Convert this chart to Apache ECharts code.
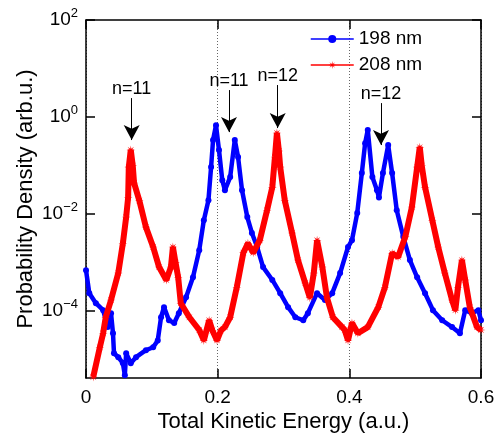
<!DOCTYPE html>
<html>
<head>
<meta charset="utf-8">
<script src="https://cdn.jsdelivr.net/npm/echarts@6/dist/echarts.min.js"></script>
<style>html,body{margin:0;padding:0;background:#fff}#c{width:501px;height:433px}</style>
</head>
<body>
<div id="c"></div>
<script>
// 198 nm (blue)
var blueX = [0.000,0.005,0.015,0.026,0.033,0.038,0.041,0.0425,0.049,0.056,0.059,0.061,0.068,0.076,0.091,0.102,0.109,0.114,0.1185,0.126,0.134,0.141,0.152,0.1625,0.172,0.179,0.186,0.190,0.193,0.1975,0.202,0.207,0.211,0.219,0.226,0.231,0.237,0.245,0.252,0.260,0.269,0.283,0.295,0.307,0.318,0.330,0.337,0.351,0.363,0.374,0.386,0.398,0.404,0.412,0.419,0.424,0.428,0.435,0.442,0.445,0.451,0.459,0.465,0.472,0.482,0.492,0.503,0.515,0.527,0.541,0.556,0.568,0.576,0.586,0.596,0.600];
var blueY = [7.0e-4,2.35e-4,1.46e-4,1.05e-4,4.7e-5,9.1e-5,3.5e-5,1.36e-5,1.13e-5,8.5e-6,4.8e-6,1.36e-5,8.5e-6,1.13e-5,1.57e-5,1.81e-5,2.5e-5,7.5e-5,1.21e-4,6.5e-5,5.7e-5,9.1e-5,1.94e-4,5.0e-4,1.81e-3,7.5e-3,0.0194,0.093,0.336,0.68,0.21,0.050,0.031,0.058,0.336,0.15,0.031,8.7e-3,4.1e-3,2.1e-3,8.1e-4,4.4e-4,2.35e-4,1.21e-4,7.5e-5,6.5e-5,9.1e-5,2.35e-4,1.7e-4,2.35e-4,6.1e-4,2.1e-3,2.9e-3,0.0105,0.070,0.29,0.54,0.058,0.031,0.022,0.070,0.265,0.070,0.012,3.4e-3,1.13e-3,5.0e-4,2.35e-4,1.05e-4,6.5e-5,4.7e-5,3.5e-5,1.05e-4,9.1e-5,1.05e-4,6.5e-5];
// 208 nm (red)
var redX = [0.011,0.021,0.026,0.030,0.038,0.049,0.056,0.061,0.064,0.065,0.068,0.071,0.073,0.081,0.091,0.102,0.111,0.122,0.129,0.132,0.136,0.140,0.144,0.157,0.172,0.179,0.187,0.192,0.199,0.205,0.211,0.219,0.229,0.239,0.246,0.254,0.264,0.275,0.283,0.287,0.290,0.293,0.295,0.302,0.313,0.322,0.333,0.340,0.346,0.351,0.359,0.366,0.375,0.389,0.393,0.398,0.404,0.413,0.428,0.444,0.454,0.465,0.474,0.485,0.495,0.503,0.507,0.510,0.515,0.526,0.535,0.545,0.556,0.561,0.565,0.571,0.576,0.583,0.594,0.600];
var redY = [4.4e-6,1.8e-5,3.5e-5,7.5e-5,1.7e-4,6.1e-4,2.5e-3,8.7e-3,0.022,0.093,0.21,0.10,0.044,0.019,5.4e-3,2.1e-3,8.1e-4,4.4e-4,8.1e-4,2.1e-3,1.0e-3,5.0e-4,1.46e-4,7.5e-5,4.1e-5,2.5e-5,6.5e-5,4.0e-5,2.5e-5,4.0e-5,4.7e-5,7.5e-5,3.1e-4,1.6e-3,2.5e-3,1.6e-3,2.9e-3,0.012,0.036,0.15,0.47,0.20,0.093,0.019,4.1e-3,1.13e-3,3.8e-4,1.9e-4,6.1e-4,2.9e-3,8.1e-4,1.9e-4,7.5e-5,4.7e-5,4.1e-5,2.5e-5,5.7e-5,3.5e-5,4.7e-5,1.21e-4,3.1e-4,1.57e-3,1.3e-3,3.4e-3,0.014,0.093,0.24,0.10,0.036,7.5e-3,2.1e-3,6.1e-4,1.7e-4,1.05e-4,3.1e-4,1.13e-3,4.4e-4,1.2e-4,4.7e-5,4.1e-5];
// annotations
var annText = ['n=11','n=11','n=12','n=12'];
var annX = [0.0694,0.2172,0.2912,0.4481];
var annTop = [2.46,3.6,4.57,1.94];
var annTip = [0.336,0.49,0.593,0.265];
// ticks
var xTicks = [0,0.2,0.4,0.6];
var yTicks = [1e-4,1e-2,1,100];
var seriesNames = ['198 nm','208 nm'];

function pairs(xs, ys){ return xs.map(function(x,i){ return [x, ys[i]]; }); }
var starPath = 'path://M20 10 L12.77 11.15 L17.07 17.07 L11.15 12.77 L10 20 L8.85 12.77 L2.93 17.07 L7.23 11.15 L0 10 L7.23 8.85 L2.93 2.93 L8.85 7.23 L10 0 L11.15 7.23 L17.07 2.93 L12.77 8.85 Z';
var FONT = 'Liberation Sans, Arial, sans-serif';

var chart = echarts.init(document.getElementById('c'), null, {renderer:'canvas'});
var yLabelFmt = function(v){
  var e = Math.round(Math.log10(v));
  var s = e < 0 ? '\u2212' + (-e) : '' + e;
  return '{b|10}{s|' + s + '}';
};
var axisLineStyle = {color:'#000', width:1.5};
chart.setOption({
  animation:false,
  backgroundColor:'#fff',
  textStyle:{fontFamily:FONT},
  grid:{left:86, top:20, right:20, bottom:55, containLabel:false, outerBoundsMode:'none'},
  legend:{
    data:seriesNames, orient:'vertical', left:305, top:24,
    itemWidth:43, itemHeight:10, itemGap:6,
    textStyle:{fontSize:19, color:'#000', lineHeight:20, fontFamily:FONT},
    lineStyle:{width:1.5}
  },
  xAxis:[{
    type:'value', min:0, max:0.6, interval:0.2, position:'bottom',
    name:'Total Kinetic Energy (a.u.)', nameLocation:'middle', nameGap:33, nameMoveOverlap:false,
    nameTextStyle:{fontSize:22, color:'#000', fontFamily:FONT},
    axisLine:{show:true, onZero:false, lineStyle:axisLineStyle},
    axisTick:{show:true, inside:true, length:9, lineStyle:axisLineStyle},
    axisLabel:{show:true, fontSize:19, color:'#000', margin:10, fontFamily:FONT,
      customValues:xTicks, formatter:function(v){ return String(+v.toFixed(1)); }},
    splitLine:{show:true, lineStyle:{color:'#666', width:1, type:[1,2]}}
  },{
    type:'value', min:0, max:0.6, interval:0.2, position:'top',
    axisLine:{show:true, onZero:false, lineStyle:axisLineStyle},
    axisTick:{show:true, inside:true, length:9, lineStyle:axisLineStyle},
    axisLabel:{show:false}, splitLine:{show:false}
  }],
  yAxis:[{
    type:'log', logBase:10, min:4.2e-6, max:100, position:'left',
    name:'Probability Density (arb.u.)', nameLocation:'middle', nameGap:49, nameMoveOverlap:false,
    nameTextStyle:{fontSize:22, color:'#000', fontFamily:FONT},
    axisLine:{show:true, onZero:false, lineStyle:axisLineStyle},
    axisTick:{show:true, inside:true, length:9, lineStyle:axisLineStyle, customValues:yTicks},
    axisLabel:{show:true, margin:8, color:'#000', customValues:yTicks, formatter:yLabelFmt,
      rich:{b:{fontSize:19, fontFamily:FONT, color:'#000'}, s:{fontSize:13, fontFamily:FONT, color:'#000', padding:[0,0,14,0]}}},
    splitLine:{show:false}, minorTick:{show:false}
  },{
    type:'log', logBase:10, min:4.2e-6, max:100, position:'right',
    axisLine:{show:true, onZero:false, lineStyle:axisLineStyle},
    axisTick:{show:true, inside:true, length:9, lineStyle:axisLineStyle, customValues:yTicks},
    axisLabel:{show:false}, splitLine:{show:false}
  }],
  series:[{
    name:seriesNames[0], type:'line', xAxisIndex:0, yAxisIndex:0,
    data:pairs(blueX, blueY), color:'#0000ff',
    symbol:'circle', symbolSize:6, showSymbol:true,
    lineStyle:{width:4.5, color:'#0000ff'}, itemStyle:{color:'#0000ff'}, z:2
  },{
    name:seriesNames[1], type:'line', xAxisIndex:0, yAxisIndex:0,
    data:pairs(redX, redY), color:'#ff0000',
    symbol:starPath, symbolSize:9, showSymbol:true,
    lineStyle:{width:6, color:'#ff0000'}, itemStyle:{color:'#ff0000'}, z:3,
    markLine:{
      silent:true, symbol:['none','arrow'], symbolSize:[12,15], precision:6,
      lineStyle:{color:'#000', width:1, type:'solid'},
      label:{show:true, position:'start', formatter:'{b}', color:'#000', fontSize:18, fontFamily:FONT, distance:0},
      data: annX.map(function(x,i){ return [{coord:[x, annTop[i]], name:annText[i]}, {coord:[x, annTip[i]]}]; })
    }
  }]
});
</script>
</body>
</html>
